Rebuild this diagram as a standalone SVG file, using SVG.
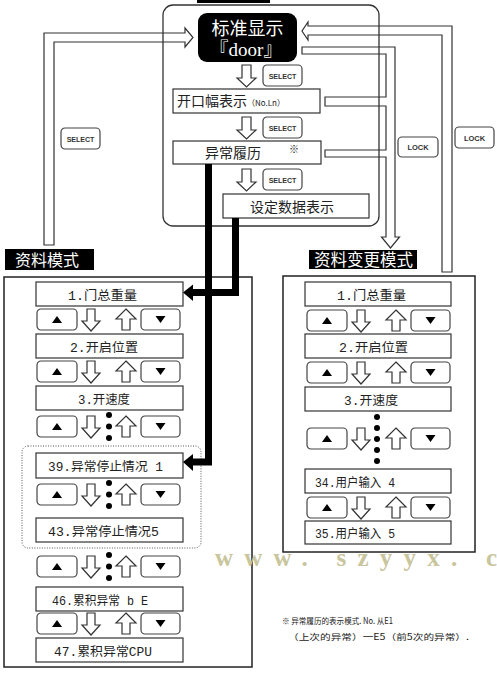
<svg xmlns="http://www.w3.org/2000/svg" xmlns:xlink="http://www.w3.org/1999/xlink" width="497" height="677" viewBox="0 0 497 677">
<style>
.box{fill:#fff;stroke:#333;stroke-width:1.2}
.btn{fill:#fff;stroke:#444;stroke-width:1.2}
.ha{fill:#fff;stroke:#333;stroke-width:1.2;stroke-linejoin:miter}
.bt{font-family:"Liberation Sans",Arial,sans-serif;font-weight:bold;fill:#333;text-anchor:middle}
.cj{font-family:"Noto Sans CJK SC",sans-serif;fill:#222}
.lb{font-family:"Liberation Mono","Noto Sans CJK SC",monospace;font-size:12.5px;fill:#222}
.thick{fill:none;stroke:#000;stroke-width:7;stroke-linejoin:miter}
</style>
<defs>
<path id="dn" d="M-4,0 H4 V12 H9 L0,22 L-9,12 H-4 Z" class="ha"/>
<path id="up" d="M0,0 L10,10 H4 V21 H-4 V10 H-10 Z" class="ha"/>
<path id="dnb" d="M-4.5,0 H4.5 V13 H9.5 L0,22 L-9.5,13 H-4.5 Z" class="ha"/>
<g id="row">
<rect x="0" y="0" width="40" height="21" rx="4" class="btn"/>
<polygon points="15,14 25,14 20,7" fill="#000"/>
<use xlink:href="#dn" x="54" y="0"/>
<use xlink:href="#up" x="89" y="0"/>
<rect x="104" y="0" width="39" height="21" rx="4" class="btn"/>
<polygon points="118.5,7 128.5,7 123.5,14" fill="#000"/>
</g>
<g id="dots3">
<circle cx="72" cy="-1" r="3" fill="#000"/>
<circle cx="72" cy="10.5" r="3" fill="#000"/>
<circle cx="72" cy="22" r="3" fill="#000"/>
</g>
<g id="sel">
<rect x="0" y="0" width="39" height="21" rx="4" class="btn"/>
<text x="19.5" y="13.5" class="bt" font-size="7">SELECT</text>
</g>
</defs>

<rect x="197" y="-2" width="73" height="5" fill="#000"/>

<g id="connectors">
<path id="c-left-select" class="ha" d="M44,245 V33 H185 V28 L193,37.5 L185,47 V42 H54 V245 Z"/>
<path id="c-lock-return" class="ha" d="M452,272 V26 H308 V22 L302,31 L308,40 V35 H442 V272 Z"/>
<path id="c-lock-to-change" class="ha" d="M302,47 H395 V237 H399.5 L390.5,248 L381.5,237 H386 V157 H325 V150 H386 V106 H325 V97 H386 V54 H302 Z"/>
<use xlink:href="#dnb" x="246.5" y="65"/>
<use xlink:href="#dnb" x="246.5" y="117"/>
<use xlink:href="#dnb" x="246.5" y="169"/>
</g>

<g id="panel">
<rect x="163" y="5" width="216" height="221" rx="10" fill="none" stroke="#333" stroke-width="1.3"/>
</g>

<g id="n-standard">
<rect x="198" y="13" width="99" height="49" rx="9" fill="#000"/>
<text x="247.5" y="35" class="cj" font-size="18" style="fill:#fff" text-anchor="middle">标准显示</text>
<text x="246" y="56" font-family="Liberation Serif,'Noto Sans CJK SC',serif" font-size="19" fill="#fff" text-anchor="middle">『door』</text>
</g>

<g id="sel1"><use xlink:href="#sel" x="263" y="65"/></g>
<g id="sel2"><use xlink:href="#sel" x="263" y="117"/></g>
<g id="sel3"><use xlink:href="#sel" x="263" y="169"/></g>
<g id="sel-left"><use xlink:href="#sel" x="61" y="128"/></g>

<g id="n-width">
<rect x="173" y="89" width="147" height="24" class="box"/>
<text x="177" y="106" class="cj" font-size="14">开口幅表示<tspan font-size="8">（No.Ln）</tspan></text>
</g>
<g id="n-history">
<rect x="173" y="141" width="148" height="23" class="box"/>
<text x="205" y="158" class="cj" font-size="14">异常履历</text>
<text x="289" y="153" class="cj" font-size="10">※</text>
</g>
<g id="n-setdata">
<rect x="223" y="194" width="146" height="24" class="box"/>
<text x="250" y="212" class="cj" font-size="14">设定数据表示</text>
</g>

<g id="lock1">
<rect x="398" y="137" width="40" height="20" rx="4" class="btn"/>
<text x="418" y="150" class="bt" font-size="7.5">LOCK</text>
</g>
<g id="lock2">
<rect x="455" y="127" width="39" height="21" rx="4" class="btn"/>
<text x="474.5" y="140.5" class="bt" font-size="7.5">LOCK</text>
</g>

<g id="label-data">
<rect x="5" y="249" width="89" height="21" fill="#000"/>
<text x="15" y="266" class="cj" font-size="16" style="fill:#fff">资料模式</text>
</g>
<g id="label-change">
<rect x="309" y="250" width="108" height="19" fill="#000"/>
<text x="314" y="266" class="cj" font-size="16.5" style="fill:#fff">资料变更模式</text>
</g>

<g id="data-mode">
<rect x="4" y="277" width="248" height="390" fill="none" stroke="#222" stroke-width="1.5"/>
<rect x="22" y="446" width="179" height="102" rx="6" fill="none" stroke="#555" stroke-width="1" stroke-dasharray="1,1.5"/>
<g id="d1"><rect x="36" y="282" width="147" height="24" class="box"/><text x="68" y="300" class="lb" textLength="69" lengthAdjust="spacingAndGlyphs">1.门总重量</text></g>
<use xlink:href="#row" x="37" y="309"/>
<g id="d2"><rect x="36" y="334" width="147" height="24" class="box"/><text x="70" y="352" class="lb" textLength="68" lengthAdjust="spacingAndGlyphs">2.开启位置</text></g>
<use xlink:href="#row" x="37" y="361"/>
<g id="d3"><rect x="36" y="386" width="147" height="24" class="box"/><text x="78" y="404" class="lb" textLength="52" lengthAdjust="spacingAndGlyphs">3.开速度</text></g>
<use xlink:href="#row" x="37" y="416"/><use xlink:href="#dots3" x="37" y="416"/>
<g id="d39"><rect x="36" y="453" width="147" height="25" class="box"/><text x="48" y="471" class="lb" textLength="115" lengthAdjust="spacingAndGlyphs">39.异常停止情况 1</text></g>
<use xlink:href="#row" x="37" y="484"/><use xlink:href="#dots3" x="37" y="484"/>
<g id="d43"><rect x="36" y="518" width="147" height="24" class="box"/><text x="48" y="536" class="lb" textLength="111" lengthAdjust="spacingAndGlyphs">43.异常停止情况5</text></g>
<use xlink:href="#row" x="37" y="556"/><use xlink:href="#dots3" x="37" y="556"/>
<g id="d46"><rect x="36" y="587" width="147" height="24" class="box"/><text x="52" y="605" class="lb" textLength="96" lengthAdjust="spacingAndGlyphs">46.累积异常 b E</text></g>
<use xlink:href="#row" x="37" y="613"/>
<g id="d47"><rect x="36" y="638" width="147" height="24" class="box"/><text x="54" y="656" class="lb" textLength="98" lengthAdjust="spacingAndGlyphs">47.累积异常CPU</text></g>
</g>

<g id="change-mode">
<rect x="283" y="276" width="192" height="276" fill="none" stroke="#222" stroke-width="1.5"/>
<g id="r1"><rect x="305" y="282" width="146" height="24" class="box"/><text x="337" y="300" class="lb" textLength="69" lengthAdjust="spacingAndGlyphs">1.门总重量</text></g>
<use xlink:href="#row" x="307" y="310"/>
<g id="r2"><rect x="305" y="334" width="146" height="24" class="box"/><text x="339" y="352" class="lb" textLength="69" lengthAdjust="spacingAndGlyphs">2.开启位置</text></g>
<use xlink:href="#row" x="307" y="362"/>
<g id="r3"><rect x="305" y="387" width="146" height="24" class="box"/><text x="344" y="405" class="lb" textLength="54" lengthAdjust="spacingAndGlyphs">3.开速度</text></g>
<use xlink:href="#row" x="307" y="428"/>
<circle cx="377" cy="417" r="3" fill="#000"/>
<circle cx="377" cy="428" r="3" fill="#000"/>
<circle cx="377" cy="439" r="3" fill="#000"/>
<circle cx="377" cy="450" r="3" fill="#000"/>
<circle cx="377" cy="461" r="3" fill="#000"/>
<g id="r34"><rect x="305" y="469" width="146" height="24" class="box"/><text x="315" y="487" class="lb" textLength="80" lengthAdjust="spacingAndGlyphs">34.用户输入 4</text></g>
<use xlink:href="#row" x="307" y="497"/>
<g id="r35"><rect x="305" y="521" width="146" height="23" class="box"/><text x="315" y="538" class="lb" textLength="80" lengthAdjust="spacingAndGlyphs">35.用户输入 5</text></g>
</g>

<g id="thick-connectors">
<path class="thick" d="M208.5,164 V462 H192"/>
<polygon points="183,462 193,454 193,471" fill="#000"/>
<path class="thick" d="M235.5,218 V292.5 H192"/>
<polygon points="183,292.5 193,284.5 193,301" fill="#000"/>
</g>

<text x="215" y="566" font-family="'Liberation Serif',serif" font-weight="bold" font-size="25" fill="#c9c59c" textLength="282" lengthAdjust="spacing">www. szyyx. c</text>

<g id="footnote">
<text x="282" y="624" class="cj" font-size="8.5" textLength="111" lengthAdjust="spacingAndGlyphs">※ 异常履历的表示模式. No. 从E1</text>
<text x="288" y="640" class="cj" font-size="8.5" textLength="181" lengthAdjust="spacingAndGlyphs">（上次的异常）一E5（前5次的异常）.</text>
</g>
</svg>
